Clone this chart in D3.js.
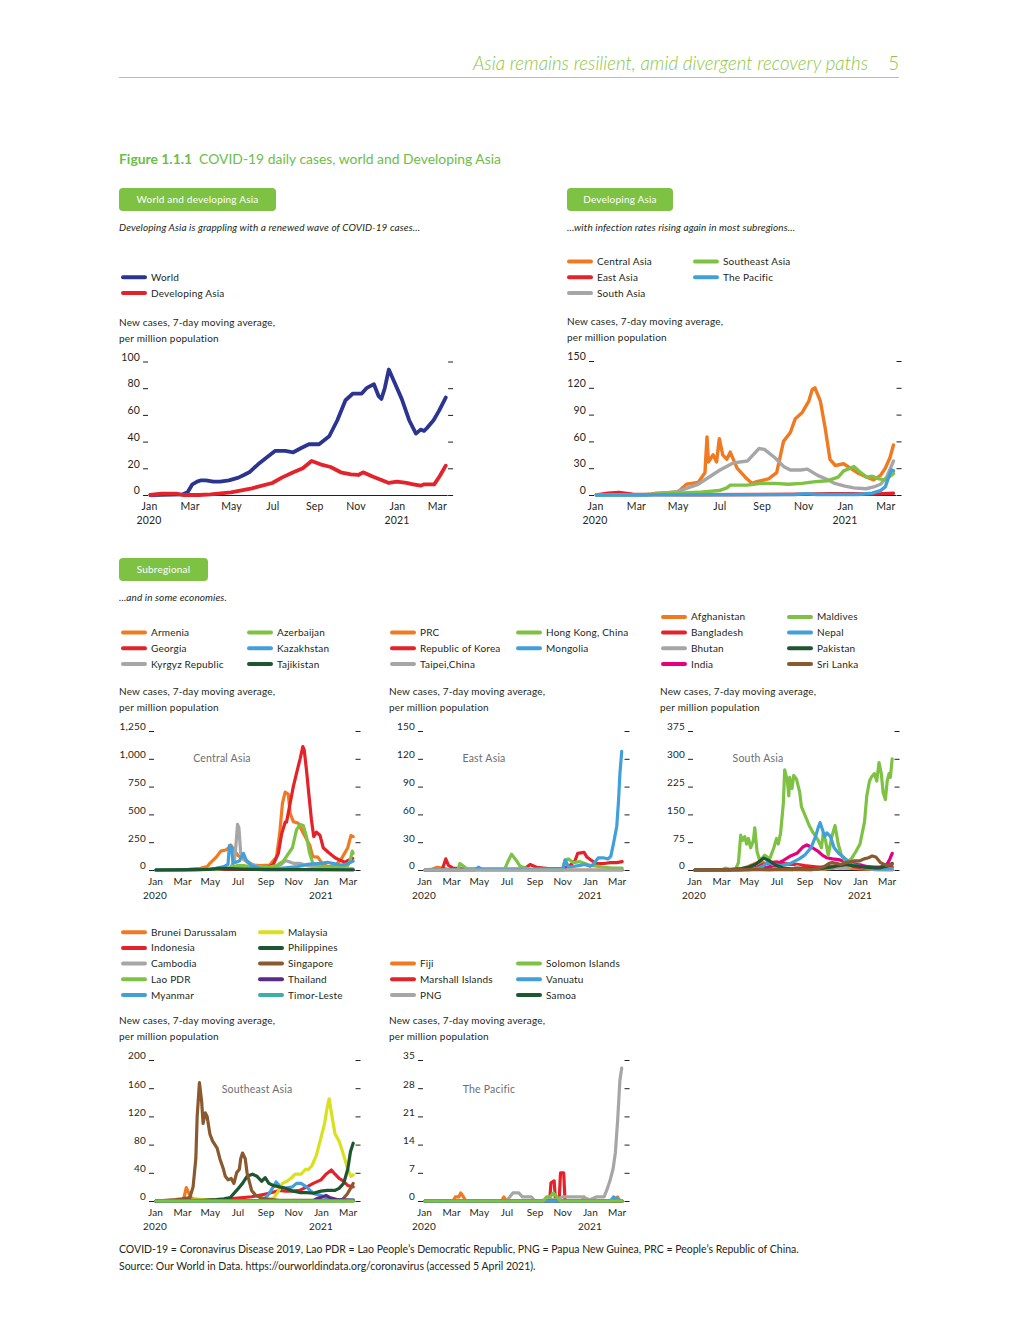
<!DOCTYPE html>
<html>
<head>
<meta charset="utf-8">
<script src="https://cdn.jsdelivr.net/npm/d3@7"></script>
<style>
  body { margin: 0; background: #fff; }
  svg { font-family: Lato, "Open Sans", sans-serif; }
</style>
</head>
<body>
<script>
// ---- data: 7-day moving average of new cases per million ----
const monthTicks = ["2020-01-01","2020-03-01","2020-05-01","2020-07-01","2020-09-01","2020-11-01","2021-01-01","2021-03-01"];
const yearTicks = ["2020-01-01","2021-01-01"];

// World and developing Asia
const worldCases = [["2020-01-03",0],["2020-02-20",0.5],["2020-02-27",2],["2020-03-05",8],["2020-03-12",10],["2020-03-18",11],["2020-03-25",11],["2020-04-05",10],["2020-04-15",10],["2020-04-28",11],["2020-05-12",13],["2020-05-20",15],["2020-05-28",17],["2020-06-10",23],["2020-06-25",29],["2020-07-05",33],["2020-07-20",33],["2020-08-01",32],["2020-08-12",35],["2020-08-24",38],["2020-09-08",38],["2020-09-23",44],["2020-10-05",56],["2020-10-17",71],["2020-10-28",76],["2020-11-10",76],["2020-11-17",80],["2020-11-28",83],["2020-12-05",74],["2020-12-09",72],["2020-12-14",80],["2020-12-20",94],["2020-12-26",87],["2021-01-08",72],["2021-01-19",56],["2021-01-29",46],["2021-02-05",49],["2021-02-10",48],["2021-02-14",50],["2021-02-24",56],["2021-03-04",63],["2021-03-14",73]];
const devAsiaCases = [["2020-01-03",0],["2020-01-20",1],["2020-02-10",1],["2020-02-20",0],["2020-03-15",0],["2020-04-01",0.5],["2020-05-01",2],["2020-06-01",5],["2020-07-01",9],["2020-07-15",13],["2020-08-01",17],["2020-08-15",20],["2020-08-28",25.5],["2020-09-10",23],["2020-09-25",21],["2020-10-10",17],["2020-10-25",15.5],["2020-11-05",15],["2020-11-12",17],["2020-11-25",14],["2020-12-10",11],["2020-12-20",9],["2021-01-01",10],["2021-01-15",9],["2021-01-25",8],["2021-02-05",7],["2021-02-10",8],["2021-02-25",8],["2021-03-05",14],["2021-03-14",22]];

// Developing Asia subregions
const centralAsiaAvg = [["2020-01-03",0],["2020-03-15",0],["2020-03-31",2],["2020-05-01",3],["2020-05-14",12],["2020-05-31",14],["2020-06-10",25],["2020-06-13",65],["2020-06-15",37],["2020-06-22",45],["2020-06-27",37],["2020-07-01",63],["2020-07-06",45],["2020-07-12",40],["2020-07-17",48],["2020-07-27",30],["2020-08-08",20],["2020-08-18",13],["2020-08-25",15],["2020-09-11",18],["2020-09-23",25],["2020-10-03",60],["2020-10-13",70],["2020-10-20",85],["2020-10-30",92],["2020-11-09",105],["2020-11-14",118],["2020-11-18",120],["2020-11-26",105],["2020-12-03",75],["2020-12-10",40],["2020-12-18",33],["2020-12-30",35],["2021-01-11",29],["2021-01-21",24],["2021-02-02",20],["2021-02-12",17],["2021-02-22",22],["2021-03-01",30],["2021-03-08",42],["2021-03-13",56]];
const eastAsiaAvg = [["2020-01-03",0],["2020-01-20",2],["2020-02-05",3],["2020-02-25",1],["2020-03-20",0.5],["2020-06-01",0.3],["2020-09-01",0.5],["2020-11-01",0.8],["2020-12-10",1.5],["2021-01-10",1.5],["2021-02-10",1],["2021-03-13",2]];
const southAsiaAvg = [["2020-01-03",0],["2020-03-15",0],["2020-04-01",1],["2020-05-01",4],["2020-05-31",12],["2020-07-02",28],["2020-07-22",36],["2020-08-11",38],["2020-08-28",52],["2020-09-05",51],["2020-09-20",42],["2020-10-03",32],["2020-10-13",28],["2020-10-28",28],["2020-11-07",29],["2020-11-22",22],["2020-12-07",17],["2020-12-17",13],["2021-01-01",10],["2021-01-14",8],["2021-02-01",7],["2021-02-12",9],["2021-02-22",12],["2021-03-03",20],["2021-03-13",38]];
const southeastAsiaAvg = [["2020-01-03",0],["2020-03-01",0],["2020-04-01",1],["2020-05-01",2],["2020-05-31",3],["2020-07-01",5],["2020-07-12",8],["2020-07-17",11],["2020-08-11",11],["2020-08-31",13],["2020-09-20",13],["2020-10-10",12],["2020-10-30",13],["2020-11-19",15],["2020-12-07",16],["2020-12-22",20],["2020-12-30",27],["2021-01-09",30],["2021-01-14",32],["2021-01-24",25],["2021-02-02",20],["2021-02-10",21],["2021-02-20",18],["2021-03-01",17],["2021-03-13",24]];
const pacificAvg = [["2020-01-03",0],["2020-10-20",0.5],["2020-11-05",1.5],["2020-11-20",0.5],["2021-01-20",0.5],["2021-02-10",2],["2021-02-22",5],["2021-03-01",9],["2021-03-05",18],["2021-03-10",28],["2021-03-13",27]];

// Central Asia
const armenia = [["2020-01-03",0],["2020-03-01",0],["2020-03-20",8],["2020-04-10",15],["2020-04-25",30],["2020-05-01",60],["2020-05-16",120],["2020-05-25",170],["2020-06-05",180],["2020-06-12",200],["2020-06-16",225],["2020-06-22",190],["2020-07-02",130],["2020-07-20",80],["2020-08-05",45],["2020-08-20",40],["2020-09-10",45],["2020-09-25",120],["2020-10-02",330],["2020-10-08",600],["2020-10-14",700],["2020-10-21",680],["2020-10-25",510],["2020-11-01",435],["2020-11-12",420],["2020-11-23",330],["2020-12-07",225],["2020-12-14",120],["2020-12-25",115],["2021-01-05",50],["2021-01-18",30],["2021-02-01",40],["2021-02-15",100],["2021-03-01",200],["2021-03-08",310],["2021-03-13",300]];
const georgia = [["2020-01-03",0],["2020-09-01",10],["2020-09-18",50],["2020-09-29",150],["2020-10-06",320],["2020-10-14",430],["2020-10-17",430],["2020-10-25",600],["2020-11-01",750],["2020-11-08",870],["2020-11-16",1000],["2020-11-22",1110],["2020-11-25",1080],["2020-11-30",900],["2020-12-06",650],["2020-12-11",450],["2020-12-16",300],["2020-12-22",340],["2020-12-30",310],["2021-01-06",200],["2021-01-17",160],["2021-02-01",110],["2021-02-16",80],["2021-02-23",70],["2021-03-04",90],["2021-03-12",105]];
const kyrgyz = [["2020-01-03",0],["2020-05-01",5],["2020-06-15",20],["2020-06-24",80],["2020-06-27",200],["2020-07-01",410],["2020-07-04",380],["2020-07-08",150],["2020-07-14",100],["2020-07-25",60],["2020-08-15",30],["2020-09-15",20],["2020-10-05",50],["2020-10-15",85],["2020-11-01",60],["2020-11-15",60],["2020-12-01",40],["2021-01-01",20],["2021-02-01",15],["2021-03-13",10]];
const azerbaijan = [["2020-01-03",0],["2020-05-15",5],["2020-06-15",20],["2020-07-01",40],["2020-07-15",40],["2020-08-01",25],["2020-09-01",20],["2020-09-25",40],["2020-10-10",80],["2020-10-30",200],["2020-11-08",360],["2020-11-16",410],["2020-11-23",400],["2020-11-30",300],["2020-12-07",150],["2020-12-14",60],["2021-01-01",30],["2021-02-01",20],["2021-03-01",40],["2021-03-06",80],["2021-03-11",170],["2021-03-13",150]];
const kazakhstan = [["2020-01-03",0],["2020-03-20",1],["2020-04-15",5],["2020-05-10",10],["2020-06-01",30],["2020-06-10",50],["2020-06-13",220],["2020-06-18",200],["2020-06-21",60],["2020-07-05",80],["2020-07-14",150],["2020-07-20",90],["2020-08-01",40],["2020-08-20",15],["2020-09-15",10],["2020-10-15",20],["2020-11-10",30],["2020-12-01",50],["2021-01-01",60],["2021-01-15",70],["2021-02-01",55],["2021-02-15",45],["2021-03-01",55],["2021-03-13",80]];
const tajikistan = [["2020-01-03",0],["2020-05-01",5],["2020-05-20",15],["2020-06-15",12],["2020-07-15",8],["2020-09-01",4],["2020-12-01",3],["2021-03-13",2]];

// East Asia
const prc = [["2020-01-03",0],["2020-01-20",1],["2020-01-30",3],["2020-02-10",2],["2020-02-25",0.5],["2020-03-10",0],["2021-03-13",0]];
const korea = [["2020-01-03",0],["2020-02-10",0],["2020-02-14",6],["2020-02-18",12],["2020-02-24",5],["2020-03-05",2],["2020-04-01",1],["2020-08-05",1],["2020-08-14",3],["2020-08-22",6],["2020-09-05",3],["2020-10-01",1.5],["2020-11-01",1.5],["2020-11-18",5],["2020-11-29",10],["2020-12-05",18],["2020-12-19",19],["2020-12-25",14],["2021-01-05",10],["2021-01-15",7],["2021-02-01",7],["2021-02-15",8],["2021-03-01",8],["2021-03-13",9]];
const taipei = [["2020-01-03",0],["2021-03-13",0]];
const hongKong = [["2020-01-03",0],["2020-03-16",0],["2020-03-20",7],["2020-03-26",5],["2020-04-05",1],["2020-06-27",1],["2020-07-05",10],["2020-07-12",17],["2020-07-23",10],["2020-07-31",4],["2020-08-20",1],["2020-11-01",1],["2020-11-07",10],["2020-11-14",12],["2020-11-25",8],["2020-12-10",9],["2021-01-01",5],["2021-01-20",4],["2021-02-01",3],["2021-02-20",2],["2021-03-13",2]];
const mongolia = [["2020-01-03",0],["2020-04-22",0],["2020-04-30",3],["2020-05-08",0.5],["2020-11-02",0],["2020-11-07",11],["2020-11-15",3],["2020-12-10",5],["2020-12-20",6],["2021-01-01",4],["2021-01-08",6],["2021-01-19",13],["2021-02-01",13],["2021-02-10",12],["2021-02-16",15],["2021-02-22",29],["2021-03-01",47],["2021-03-05",75],["2021-03-08",104],["2021-03-12",128]];

// South Asia
const afghanistan = [["2020-01-03",0],["2020-04-01",1],["2020-04-15",3],["2020-05-01",10],["2020-05-15",18],["2020-06-01",20],["2020-06-15",15],["2020-07-01",8],["2020-07-15",4],["2020-08-15",2],["2020-09-15",1],["2020-10-15",2],["2020-11-01",4],["2020-11-15",6],["2020-12-01",5],["2020-12-15",4],["2021-01-15",2],["2021-02-15",1],["2021-03-13",1]];
const bangladesh = [["2020-01-03",0],["2020-04-01",0],["2020-04-15",1],["2020-05-01",3],["2020-05-15",6],["2020-06-01",15],["2020-06-15",20],["2020-07-01",22],["2020-07-15",18],["2020-08-01",15],["2020-08-15",15],["2020-09-01",12],["2020-09-15",10],["2020-10-01",8],["2020-10-15",8],["2020-11-01",10],["2020-11-15",12],["2020-12-01",14],["2020-12-15",10],["2021-01-01",6],["2021-01-15",4],["2021-02-01",3],["2021-02-15",2],["2021-03-01",4],["2021-03-13",8]];
const bhutan = [["2020-01-03",0],["2020-08-05",0],["2020-08-15",10],["2020-08-25",4],["2020-09-15",2],["2020-10-15",3],["2020-11-05",8],["2020-11-20",4],["2020-12-10",8],["2020-12-22",20],["2021-01-02",15],["2021-01-15",5],["2021-02-01",1],["2021-03-13",0]];
const india = [["2020-01-03",0],["2020-04-15",1],["2020-05-01",3],["2020-05-15",5],["2020-06-01",6],["2020-06-15",8],["2020-07-01",15],["2020-07-15",25],["2020-08-01",38],["2020-08-15",45],["2020-08-28",62],["2020-09-06",68],["2020-09-18",60],["2020-10-01",50],["2020-10-10",40],["2020-10-20",33],["2020-11-01",30],["2020-11-15",28],["2020-12-01",22],["2020-12-15",18],["2021-01-01",13],["2021-01-15",10],["2021-02-01",8],["2021-02-15",8],["2021-03-01",14],["2021-03-08",30],["2021-03-13",45]];
const maldives = [["2020-01-03",0],["2020-03-01",0],["2020-03-10",5],["2020-03-20",2],["2020-04-02",3],["2020-04-08",20],["2020-04-13",94],["2020-04-17",80],["2020-04-22",90],["2020-04-26",70],["2020-04-30",85],["2020-05-05",60],["2020-05-11",80],["2020-05-14",114],["2020-05-19",50],["2020-05-25",25],["2020-06-05",40],["2020-06-16",30],["2020-06-25",60],["2020-07-01",85],["2020-07-05",70],["2020-07-10",100],["2020-07-16",180],["2020-07-19",270],["2020-07-25",240],["2020-07-28",200],["2020-07-30",250],["2020-08-04",220],["2020-08-08",255],["2020-08-14",245],["2020-08-21",210],["2020-08-25",170],["2020-09-01",150],["2020-09-11",120],["2020-09-20",100],["2020-10-01",80],["2020-10-08",60],["2020-10-12",100],["2020-10-17",80],["2020-10-23",40],["2020-10-31",90],["2020-11-07",120],["2020-11-14",70],["2020-11-21",40],["2020-12-02",20],["2020-12-13",30],["2020-12-23",50],["2021-01-01",70],["2021-01-11",130],["2021-01-16",200],["2021-01-22",240],["2021-01-26",250],["2021-02-02",260],["2021-02-07",240],["2021-02-12",290],["2021-02-17",260],["2021-02-21",210],["2021-02-26",190],["2021-03-02",240],["2021-03-06",260],["2021-03-09",250],["2021-03-13",300]];
const nepal = [["2020-01-03",0],["2020-05-01",0],["2020-05-20",5],["2020-06-01",10],["2020-06-10",20],["2020-06-25",15],["2020-07-10",12],["2020-08-01",18],["2020-08-20",30],["2020-09-01",40],["2020-09-15",60],["2020-09-25",90],["2020-10-01",115],["2020-10-05",128],["2020-10-10",110],["2020-10-15",90],["2020-10-20",100],["2020-10-28",90],["2020-11-05",60],["2020-11-15",45],["2020-11-25",35],["2020-12-05",25],["2020-12-15",15],["2021-01-01",10],["2021-01-15",5],["2021-02-01",3],["2021-03-01",3],["2021-03-13",4]];
const pakistan = [["2020-01-03",0],["2020-03-20",1],["2020-04-15",4],["2020-05-01",8],["2020-05-15",15],["2020-05-25",24],["2020-06-03",32],["2020-06-15",25],["2020-07-01",12],["2020-07-15",6],["2020-08-01",3],["2020-09-01",3],["2020-10-01",3],["2020-11-01",8],["2020-11-15",12],["2020-12-01",15],["2020-12-15",12],["2021-01-01",10],["2021-01-15",7],["2021-02-01",6],["2021-02-15",6],["2021-03-01",10],["2021-03-13",18]];
const sriLanka = [["2020-01-03",0],["2020-04-15",1],["2020-05-15",2],["2020-06-15",1],["2020-07-10",2],["2020-08-15",1],["2020-09-15",1],["2020-10-05",5],["2020-10-15",10],["2020-10-25",18],["2020-11-01",20],["2020-11-10",18],["2020-11-20",15],["2020-12-01",20],["2020-12-10",22],["2020-12-20",25],["2021-01-01",25],["2021-01-10",30],["2021-01-20",33],["2021-01-28",38],["2021-02-05",35],["2021-02-15",20],["2021-03-01",12],["2021-03-13",15]];

// Southeast Asia
const brunei = [["2020-01-03",0],["2020-03-01",0],["2020-03-05",5],["2020-03-10",19],["2020-03-15",12],["2020-03-20",5],["2020-04-01",1],["2020-04-15",0],["2021-03-13",0]];
const indonesia = [["2020-01-03",0],["2020-04-01",0.5],["2020-05-01",1.5],["2020-06-01",2],["2020-07-01",4],["2020-08-01",6],["2020-09-01",10],["2020-09-15",12],["2020-10-01",15],["2020-10-15",14],["2020-11-01",14],["2020-11-15",15],["2020-12-01",20],["2020-12-15",25],["2021-01-01",30],["2021-01-12",38],["2021-01-24",44],["2021-02-01",38],["2021-02-10",32],["2021-02-20",28],["2021-03-01",22],["2021-03-13",20]];
const cambodia = [["2020-01-03",0],["2021-02-20",0],["2021-03-13",2]];
const laoPDR = [["2020-01-03",0],["2021-03-13",0]];
const myanmar = [["2020-01-03",0],["2020-08-20",0],["2020-08-28",2],["2020-09-08",10],["2020-09-18",20],["2020-09-24",27],["2020-10-04",20],["2020-10-14",18],["2020-10-30",20],["2020-11-08",25],["2020-11-18",25],["2020-11-30",20],["2020-12-08",15],["2020-12-18",10],["2021-01-01",8],["2021-01-15",4],["2021-02-01",2],["2021-03-13",1]];
const malaysia = [["2020-01-03",0],["2020-03-10",0],["2020-03-20",2],["2020-03-30",3],["2020-04-15",2],["2020-05-15",1],["2020-06-15",0.3],["2020-08-25",0.3],["2020-09-10",1],["2020-09-20",5],["2020-09-30",15],["2020-10-08",25],["2020-10-18",28],["2020-10-28",33],["2020-11-05",38],["2020-11-18",38],["2020-11-28",45],["2020-12-05",45],["2020-12-12",50],["2020-12-22",65],["2021-01-01",90],["2021-01-09",110],["2021-01-14",130],["2021-01-19",145],["2021-01-24",125],["2021-02-01",95],["2021-02-10",85],["2021-02-20",65],["2021-03-01",45],["2021-03-08",35],["2021-03-13",37]];
const philippines = [["2020-01-03",0],["2020-03-20",0.5],["2020-04-15",1],["2020-05-15",2],["2020-06-01",3],["2020-06-15",5],["2020-06-29",15],["2020-07-12",25],["2020-07-22",35],["2020-08-03",38],["2020-08-13",35],["2020-08-23",28],["2020-08-31",33],["2020-09-08",25],["2020-09-18",22],["2020-10-01",20],["2020-10-15",18],["2020-11-01",14],["2020-11-15",12],["2020-12-01",12],["2020-12-15",11],["2021-01-01",14],["2021-01-15",15],["2021-02-01",15],["2021-02-10",18],["2021-02-20",25],["2021-03-01",45],["2021-03-07",70],["2021-03-13",82]];
const singapore = [["2020-01-03",0],["2020-02-15",2],["2020-03-01",3],["2020-03-18",5],["2020-03-25",20],["2020-03-31",60],["2020-04-03",120],["2020-04-08",168],["2020-04-13",140],["2020-04-16",110],["2020-04-21",125],["2020-04-25",120],["2020-05-01",95],["2020-05-07",85],["2020-05-12",80],["2020-05-17",75],["2020-05-23",60],["2020-05-31",45],["2020-06-04",35],["2020-06-10",30],["2020-06-17",32],["2020-06-23",25],["2020-06-29",40],["2020-07-05",45],["2020-07-08",60],["2020-07-12",68],["2020-07-18",60],["2020-07-22",40],["2020-08-01",15],["2020-08-10",8],["2020-08-20",5],["2020-09-01",3],["2020-10-01",1],["2021-02-01",1],["2021-02-17",2],["2021-02-28",10],["2021-03-09",20],["2021-03-13",25]];
const thailand = [["2020-01-03",0],["2020-03-20",1],["2020-04-15",0.5],["2020-12-15",0.5],["2020-12-22",3],["2021-01-05",6],["2021-01-12",8],["2021-01-20",5],["2021-02-05",2],["2021-03-13",1]];
const timorLeste = [["2020-01-03",0],["2021-03-13",0]];

// The Pacific
const fiji = [["2020-01-03",0],["2020-03-05",0],["2020-03-10",1],["2020-03-18",1],["2020-03-22",2],["2020-03-28",1],["2020-04-02",0],["2020-06-20",0],["2020-06-25",1],["2020-07-01",0],["2020-12-14",0],["2020-12-19",1],["2020-12-25",0],["2021-02-25",0],["2021-03-03",1],["2021-03-07",0],["2021-03-13",0]];
const marshallIslands = [["2020-01-03",0],["2020-10-04",0],["2020-10-07",4.5],["2020-10-14",5],["2020-10-17",0],["2020-10-25",0],["2020-10-28",7],["2020-11-04",7],["2020-11-07",0],["2021-03-13",0]];
const png = [["2020-01-03",0],["2020-07-01",0],["2020-07-08",1],["2020-07-15",2],["2020-07-28",2],["2020-08-05",1],["2020-08-25",1],["2020-09-01",0],["2020-10-20",0.5],["2020-11-01",1],["2020-11-20",1],["2020-12-01",1],["2020-12-15",1],["2021-01-01",0.3],["2021-01-15",1],["2021-02-01",1],["2021-02-08",3],["2021-02-14",5],["2021-02-21",8],["2021-02-26",12],["2021-03-03",20],["2021-03-08",30],["2021-03-12",33]];
const solomonIslands = [["2020-01-03",0],["2020-09-20",0],["2020-09-27",1],["2020-10-05",1],["2020-10-12",2],["2020-10-20",1],["2020-10-28",0],["2021-03-13",0]];
const vanuatu = [["2020-01-03",0],["2021-02-15",0],["2021-02-22",1],["2021-03-01",0.5],["2021-03-13",0]];
const samoa = [["2020-01-03",0],["2021-03-13",0]];

// ---- styling ----
const ink = "#231F20";
const green = "#7DC243";
const col = {
  orange: "#F07A22", red: "#E4222A", gray: "#A6A6A6", green: "#7DC243", blue: "#41A0DA",
  dkgreen: "#1E5631", navy: "#2B3590", magenta: "#E6007E", brown: "#8A5A2E",
  yellow: "#D8E020", purple: "#5A2A86", teal: "#3AAFA9"
};

const parseDay = d3.timeParse("%Y-%m-%d");
const startDay = parseDay("2020-01-01");
const endDay = parseDay("2021-03-16");

const svg = d3.select("body").append("svg").attr("width", 1020).attr("height", 1320);

function txt(x, y, s, o = {}) {
  return svg.append("text").attr("x", x).attr("y", y)
    .attr("font-size", o.size || 10)
    .attr("fill", o.fill || ink)
    .attr("text-anchor", o.anchor || "start")
    .attr("font-style", o.italic ? "italic" : "normal")
    .attr("font-weight", o.weight || "normal")
    .attr("letter-spacing", o.ls || null)
    .text(s);
}

// page header
txt(868, 70, "Asia remains resilient, amid divergent recovery paths", {size: 18.7, fill: "#8CC63F", anchor: "end", italic: true, weight: 300});
txt(899, 70, "5", {size: 18.7, fill: "#8CC63F", anchor: "end", weight: 300});
svg.append("line").attr("x1", 119).attr("x2", 899).attr("y1", 77.5).attr("y2", 77.5)
  .attr("stroke", "#A6D37C").attr("stroke-width", 1);

const ttl = txt(119, 164, "", {size: 13.9, fill: "#6CBE45"});
ttl.append("tspan").attr("font-weight", "bold").text("Figure 1.1.1");
ttl.append("tspan").attr("dx", 7).text("COVID-19 daily cases, world and Developing Asia");

function button(x, y, w, label) {
  svg.append("rect").attr("x", x).attr("y", y).attr("width", w).attr("height", 23)
    .attr("rx", 4).attr("fill", green);
  txt(x + w / 2, y + 15, label, {size: 10, fill: "#fff", anchor: "middle", ls: 0.2});
}

button(119, 188, 157, "World and developing Asia");
button(567, 188, 106, "Developing Asia");
button(119, 558, 89, "Subregional");
txt(119, 231, "Developing Asia is grappling with a renewed wave of COVID-19 cases...", {size: 10, italic: true, ls: 0.1});
txt(567, 231, "...with infection rates rising again in most subregions...", {size: 10, italic: true, ls: 0.1});
txt(119, 601, "...and in some economies.", {size: 10, italic: true, ls: 0.1});

function legend(x, bottom, dx, cols) {
  const rows = d3.max(cols, c => c.length);
  cols.forEach((c, ci) => c.forEach((s, ri) => {
    const yy = bottom - (rows - 1 - ri) * 15.7;
    const xx = x + ci * dx;
    svg.append("line").attr("x1", xx + 2).attr("x2", xx + 24).attr("y1", yy).attr("y2", yy)
      .attr("stroke", s.color).attr("stroke-width", 4).attr("stroke-linecap", "round");
    txt(xx + 30, yy + 3.5, s.name, {size: 10, ls: 0.2});
  }));
}

function panel(p) {
  const xEnd = p.x0 + d3.timeDay.count(startDay, endDay) * p.ppd;
  const x = d3.scaleTime().domain([startDay, endDay]).range([p.x0, xEnd]);
  const y = d3.scaleLinear().domain([0, p.yMax]).range([p.y0, p.yTop]);
  const g = svg.append("g");

  // axis title
  txt(p.tx, p.yTop - 36, "New cases, 7-day moving average,", {size: 10, ls: 0.2});
  txt(p.tx, p.yTop - 20, "per million population", {size: 10, ls: 0.2});
  if (p.label) txt(p.label[0], p.label[1], p.title, {size: 10.5, fill: "#6D6E71", anchor: "middle", ls: 0.2});

  const ya = g.append("g").attr("transform", `translate(${p.x0 - 1},0)`)
    .call(d3.axisLeft(y).tickValues(p.ticks).tickSize(5).tickPadding(3).tickFormat(d3.format(",")));
  const yr = g.append("g").attr("transform", `translate(${xEnd + 1},0)`)
    .call(d3.axisRight(y).tickValues(p.ticks).tickSize(5).tickFormat(""));
  const xa = g.append("g").attr("transform", `translate(0,${p.y0})`)
    .call(d3.axisBottom(x).tickValues(monthTicks.map(parseDay)).tickSize(0).tickSizeOuter(0)
      .tickPadding(8).tickFormat(d3.timeFormat("%b")));
  [ya, yr].forEach(a => a.select(".domain").remove());
  [ya, yr, xa].forEach(a => {
    a.attr("font-family", null).attr("font-size", null);
    a.selectAll("line").attr("stroke", ink);
    a.selectAll("text").attr("fill", ink).attr("font-size", p.fs).attr("letter-spacing", 0.2);
  });
  xa.select(".domain").attr("stroke", ink);
  ya.selectAll("text").attr("dy", "-0.12em");

  g.selectAll(".year").data(yearTicks).join("text")
    .attr("x", d => x(parseDay(d))).attr("y", p.y0 + 29)
    .attr("text-anchor", "middle").attr("font-size", p.fs).attr("fill", ink)
    .attr("letter-spacing", 0.2)
    .text(d => d.slice(0, 4));

  const line = d3.line().x(d => x(parseDay(d[0]))).y(d => y(d[1]));
  p.series.forEach(s => {
    g.append("path").attr("d", line(s.data)).attr("fill", "none")
      .attr("stroke", s.color).attr("stroke-width", p.lw)
      .attr("stroke-linejoin", "round").attr("stroke-linecap", "round");
  });
}

// ---- panel 1: world and developing Asia ----
const p1 = [{name: "World", data: worldCases, color: col.navy}, {name: "Developing Asia", data: devAsiaCases, color: col.red}];
legend(121, 293, 126, [p1]);
panel({x0: 149, ppd: 0.6775, y0: 495, yTop: 361.5, yMax: 100, ticks: [0, 20, 40, 60, 80, 100],
  fs: 10.5, lw: 3.8, tx: 119, series: p1});

// ---- panel 2: developing Asia subregions ----
const p2a = [{name: "Central Asia", data: centralAsiaAvg, color: col.orange}, {name: "East Asia", data: eastAsiaAvg, color: col.red}, {name: "South Asia", data: southAsiaAvg, color: col.gray}];
const p2b = [{name: "Southeast Asia", data: southeastAsiaAvg, color: col.green}, {name: "The Pacific", data: pacificAvg, color: col.blue}];
legend(567, 293, 126, [p2a, p2b]);
panel({x0: 595, ppd: 0.683, y0: 495, yTop: 361, yMax: 150, ticks: [0, 30, 60, 90, 120, 150],
  fs: 10.5, lw: 3.4, tx: 567, series: p2a.concat(p2b)});

// ---- Central Asia ----
const caA = [{name: "Armenia", data: armenia, color: col.orange}, {name: "Georgia", data: georgia, color: col.red}, {name: "Kyrgyz Republic", data: kyrgyz, color: col.gray}];
const caB = [{name: "Azerbaijan", data: azerbaijan, color: col.green}, {name: "Kazakhstan", data: kazakhstan, color: col.blue}, {name: "Tajikistan", data: tajikistan, color: col.dkgreen}];
legend(121, 664, 126, [caA, caB]);
panel({x0: 155, ppd: 0.4535, y0: 870, yTop: 731, yMax: 1250, ticks: [0, 250, 500, 750, 1000, 1250],
  fs: 10, lw: 3.2, tx: 119, title: "Central Asia", label: [222, 762], series: caA.concat(caB)});

// ---- East Asia ----
const eaA = [{name: "PRC", data: prc, color: col.orange}, {name: "Republic of Korea", data: korea, color: col.red}, {name: "Taipei,China", data: taipei, color: col.gray}];
const eaB = [{name: "Hong Kong, China", data: hongKong, color: col.green}, {name: "Mongolia", data: mongolia, color: col.blue}];
legend(390, 664, 126, [eaA, eaB]);
panel({x0: 424, ppd: 0.4535, y0: 870, yTop: 731, yMax: 150, ticks: [0, 30, 60, 90, 120, 150],
  fs: 10, lw: 3.2, tx: 389, title: "East Asia", label: [484, 762],
  series: [eaA[0], eaA[1], eaB[0], eaB[1], eaA[2]]});

// ---- South Asia ----
const saA = [{name: "Afghanistan", data: afghanistan, color: col.orange}, {name: "Bangladesh", data: bangladesh, color: col.red}, {name: "Bhutan", data: bhutan, color: col.gray}, {name: "India", data: india, color: col.magenta}];
const saB = [{name: "Maldives", data: maldives, color: col.green}, {name: "Nepal", data: nepal, color: col.blue}, {name: "Pakistan", data: pakistan, color: col.dkgreen}, {name: "Sri Lanka", data: sriLanka, color: col.brown}];
legend(661, 664, 126, [saA, saB]);
panel({x0: 694, ppd: 0.4535, y0: 870, yTop: 731, yMax: 375, ticks: [0, 75, 150, 225, 300, 375],
  fs: 10, lw: 3.2, tx: 660, title: "South Asia", label: [758, 762], series: saA.concat(saB)});

// ---- Southeast Asia ----
const seA = [{name: "Brunei Darussalam", data: brunei, color: col.orange}, {name: "Indonesia", data: indonesia, color: col.red}, {name: "Cambodia", data: cambodia, color: col.gray}, {name: "Lao PDR", data: laoPDR, color: col.green}, {name: "Myanmar", data: myanmar, color: col.blue}];
const seB = [{name: "Malaysia", data: malaysia, color: col.yellow}, {name: "Philippines", data: philippines, color: col.dkgreen}, {name: "Singapore", data: singapore, color: col.brown}, {name: "Thailand", data: thailand, color: col.purple}, {name: "Timor-Leste", data: timorLeste, color: col.teal}];
legend(121, 995, 137, [seA, seB]);
panel({x0: 155, ppd: 0.4535, y0: 1201, yTop: 1060, yMax: 200, ticks: [0, 40, 80, 120, 160, 200],
  fs: 10, lw: 3.2, tx: 119, title: "Southeast Asia", label: [257, 1093],
  series: [seA[0], seA[1], seA[2], seA[4], seB[0], seB[1], seB[2], seB[3], seB[4], seA[3]]});

// ---- The Pacific ----
const paA = [{name: "Fiji", data: fiji, color: col.orange}, {name: "Marshall Islands", data: marshallIslands, color: col.red}, {name: "PNG", data: png, color: col.gray}];
const paB = [{name: "Solomon Islands", data: solomonIslands, color: col.green}, {name: "Vanuatu", data: vanuatu, color: col.blue}, {name: "Samoa", data: samoa, color: col.dkgreen}];
legend(390, 995, 126, [paA, paB]);
panel({x0: 424, ppd: 0.4535, y0: 1201, yTop: 1060, yMax: 35, ticks: [0, 7, 14, 21, 28, 35],
  fs: 10, lw: 3.2, tx: 389, title: "The Pacific", label: [489, 1093],
  series: [paA[0], paA[1], paA[2], paB[2], paB[1], paB[0]]});

// footnotes
txt(119, 1252.5, "COVID-19 = Coronavirus Disease 2019, Lao PDR = Lao People’s Democratic Republic, PNG = Papua New Guinea, PRC = People’s Republic of China.", {size: 10.5});
txt(119, 1269.5, "Source: Our World in Data. https://ourworldindata.org/coronavirus (accessed 5 April 2021).", {size: 10.5});
</script>
</body>
</html>
